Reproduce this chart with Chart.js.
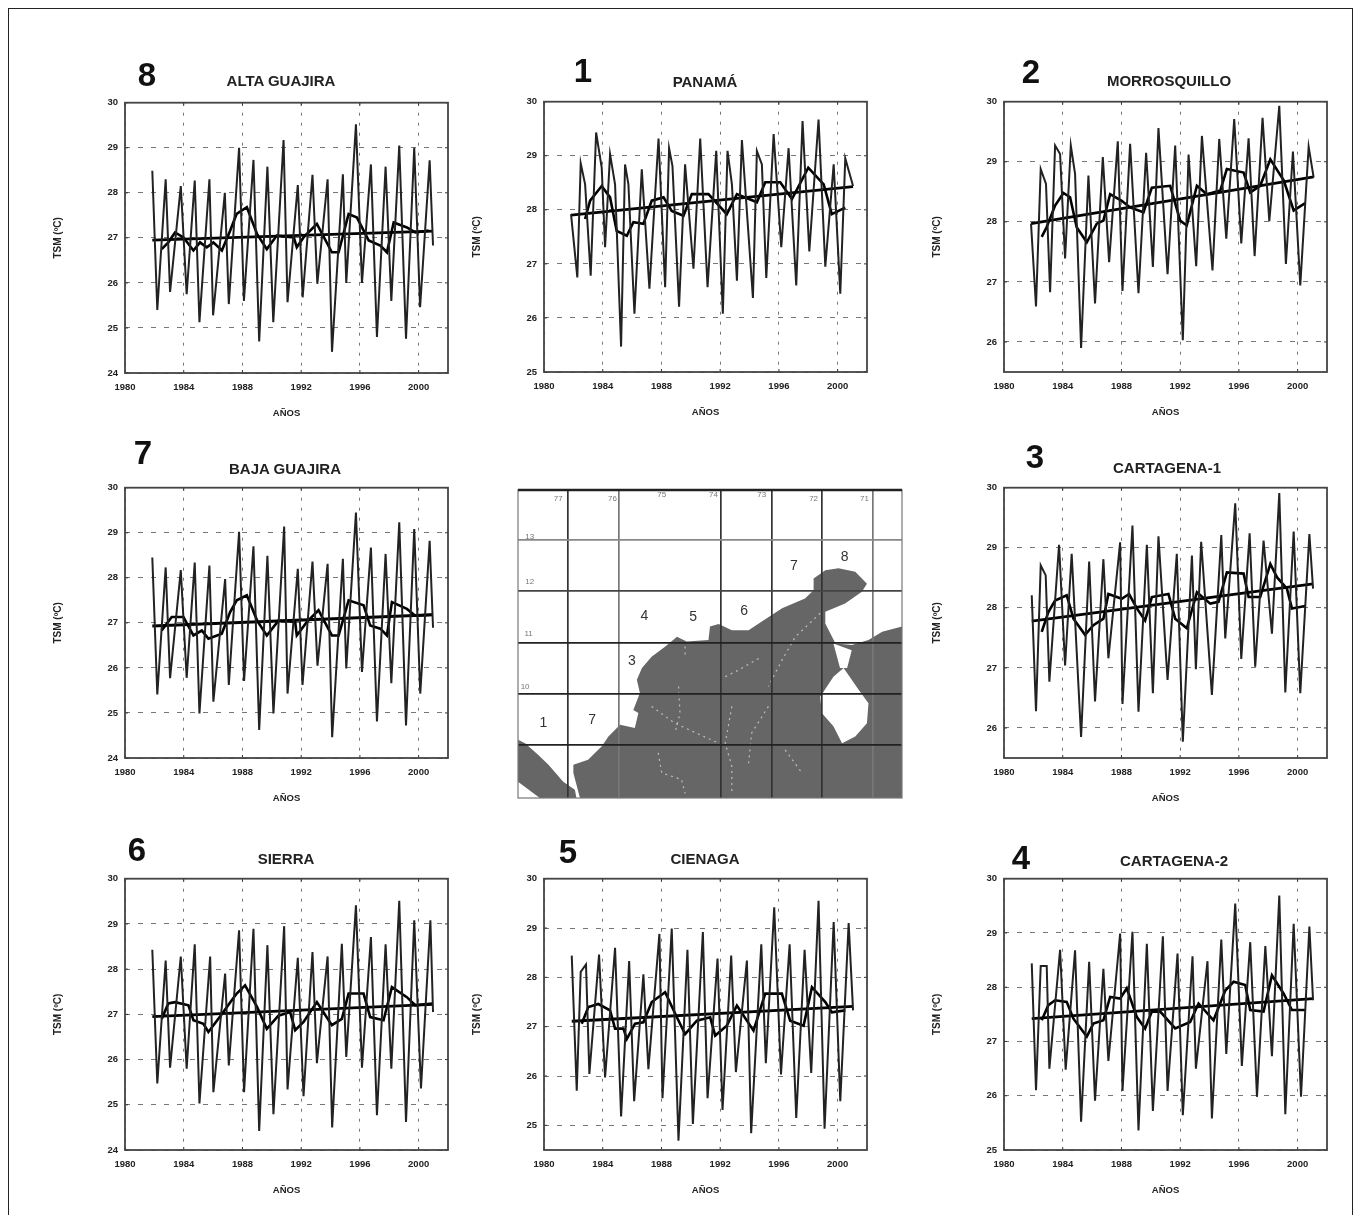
<!DOCTYPE html>
<html lang="es">
<head>
<meta charset="utf-8">
<title>TSM Caribe colombiano</title>
<script src="https://cdn.jsdelivr.net/npm/chart.js@4"></script>
<style>
  html, body { margin: 0; padding: 0; background: #fff; }
  #page { position: relative; width: 1361px; height: 1215px; overflow: hidden; filter: blur(0.6px); }
  #frame { position: absolute; left: 8px; top: 8px; width: 1343px; height: 1220px; border: 1px solid #222; }
  canvas { position: absolute; }
  .num, .name { position: absolute; transform: translate(-50%, -50%); font-family: "Liberation Sans", Arial, sans-serif; font-weight: bold; color: #111; white-space: nowrap; }
  .num { font-size: 33px; }
  .name { font-size: 15px; color: #222; }
</style>
</head>
<body>
<div id="page"><div id="frame"></div></div>
<script>
// Alta Guajira (8)
const altaYears = [1981.86,1982.2,1982.77,1983.07,1983.8,1984.2,1984.75,1985.07,1985.75,1986,1986.8,1987.07,1987.77,1988.1,1988.75,1989.14,1989.7,1990.1,1990.8,1991.07,1991.77,1992.1,1992.77,1993.1,1993.8,1994.1,1994.84,1995.07,1995.73,1996.14,1996.75,1997.16,1997.75,1998.14,1998.68,1999.14,1999.7,2000.1,2000.75,2000.98];
const altaSst = [28.49,25.4,28.3,25.8,28.15,25.75,28.27,25.13,28.3,25.28,28,25.53,29,25.6,28.73,24.7,28.58,25.13,29.17,25.57,28.17,25.68,28.4,25.98,28.3,24.47,28.41,26,29.52,26,28.63,24.8,28.58,25.6,29.05,24.76,29,25.46,28.72,26.83];
const altaMeanYears = [1982.5,1982.95,1983.41,1983.98,1984.66,1985.11,1985.57,1986.02,1986.6,1987.16,1987.6,1988.3,1989,1989.66,1990.34,1991.5,1991.7,1992.16,1993.07,1994.09,1994.55,1995.23,1995.8,1996.6,1997.39,1997.84,1998.3,1999.2,1999.77,2000.68];
const altaMean = [26.75,26.9,27.12,27.01,26.72,26.9,26.79,26.9,26.72,27.16,27.53,27.68,27.08,26.75,27.05,27.01,26.79,27.01,27.31,26.68,26.68,27.53,27.45,26.94,26.83,26.68,27.34,27.23,27.12,27.16];
const altaTrend = [26.95,27.15];

// Panama (1)
const panamaYears = [1981.84,1982.27,1982.5,1982.8,1983.18,1983.55,1983.93,1984.16,1984.5,1984.84,1985.25,1985.52,1985.75,1986.16,1986.66,1987.18,1987.8,1988.25,1988.52,1988.75,1989.2,1989.61,1990.18,1990.64,1991.14,1991.73,1992.18,1992.5,1992.8,1993.14,1993.48,1994.23,1994.5,1994.84,1995.14,1995.64,1996.16,1996.66,1997.18,1997.61,1998.07,1998.7,1999.16,1999.73,2000.18,2000.52,2001.05];
const panamaSst = [27.92,26.75,28.86,28.47,26.78,29.43,28.78,27.31,29.03,28.47,25.47,28.84,28.47,26.08,28.75,26.54,29.32,26.57,29.14,28.81,26.21,28.84,26.91,29.32,26.57,29.09,26.08,29.09,28.47,26.69,29.29,26.37,29.09,28.84,26.74,29.4,27.31,29.14,26.6,29.64,27.23,29.67,26.95,28.84,26.45,28.95,28.44];
const panamaMeanYears = [1982.8,1983.14,1983.93,1984.5,1984.95,1985.64,1986.09,1986.77,1987.34,1988.14,1988.7,1989.5,1990.07,1991.2,1992.45,1993.14,1994.5,1995.07,1996.09,1996.89,1998,1999.05,1999.6,2000.52];
const panamaMean = [27.83,28.17,28.44,28.23,27.61,27.52,27.77,27.74,28.17,28.23,27.98,27.89,28.29,28.29,27.92,28.29,28.14,28.51,28.51,28.2,28.78,28.47,27.92,28.04];
const panamaTrend = [27.9,28.43];

// Morrosquillo (2)
const morroYears = [1981.84,1982.18,1982.5,1982.86,1983.14,1983.48,1983.82,1984.16,1984.55,1984.84,1985.25,1985.75,1986.2,1986.73,1987.16,1987.75,1988.07,1988.59,1989.16,1989.68,1990.14,1990.52,1991.14,1991.66,1992.18,1992.57,1993.09,1993.48,1994.2,1994.66,1995.14,1995.68,1996.16,1996.66,1997.07,1997.61,1998.07,1998.75,1999.2,1999.68,2000.18,2000.75,2001.09];
const morroSst = [27.97,26.59,28.88,28.63,26.83,29.27,29.13,27.39,29.27,28.8,25.9,28.77,26.64,29.08,27.33,29.34,26.85,29.3,26.81,29.15,27.25,29.56,27.13,29.27,26.03,29.12,27.26,29.43,27.19,29.38,27.72,29.71,27.64,29.39,27.43,29.73,28.01,29.93,27.3,29.17,26.94,29.25,28.74];
const morroMeanYears = [1982.57,1982.9,1983.48,1984.05,1984.5,1984.95,1985.64,1986.32,1986.77,1987.23,1988.02,1988.59,1989.5,1990.07,1991.32,1992,1992.45,1993.14,1993.82,1994.73,1995.18,1996.32,1996.77,1997.45,1998.14,1999.05,1999.73,2000.52];
const morroMean = [27.75,27.91,28.27,28.48,28.41,27.91,27.66,27.97,28.02,28.46,28.35,28.24,28.16,28.57,28.6,28.02,27.94,28.6,28.46,28.52,28.88,28.82,28.49,28.6,29.04,28.69,28.19,28.31];
const morroTrend = [27.97,28.75];

// Baja Guajira (7)
const bajaYears = [1981.86,1982.2,1982.77,1983.07,1983.8,1984.2,1984.75,1985.07,1985.75,1986.02,1986.82,1987.07,1987.77,1988.11,1988.75,1989.14,1989.7,1990.11,1990.84,1991.07,1991.77,1992.09,1992.77,1993.11,1993.8,1994.11,1994.84,1995.07,1995.73,1996.14,1996.75,1997.16,1997.75,1998.14,1998.68,1999.14,1999.7,2000.11,2000.75,2000.98];
const bajaSst = [28.45,25.41,28.23,25.77,28.17,25.78,28.34,24.99,28.27,25.25,27.97,25.62,29.02,25.71,28.7,24.62,28.49,24.99,29.14,25.43,28.2,25.62,28.36,26.05,28.31,24.46,28.42,25.99,29.45,25.91,28.67,24.81,28.53,25.66,29.23,24.72,29.08,25.43,28.82,26.89];
const bajaMeanYears = [1982.5,1983.18,1983.98,1984.66,1985.23,1985.68,1986.59,1987.16,1987.61,1988.3,1989,1989.66,1990.45,1991.59,1991.7,1992.39,1993.18,1994.09,1994.55,1995.23,1996.25,1996.7,1997.39,1997.84,1998.18,1999.2,1999.77,2000.91];
const bajaMean = [26.83,27.13,27.13,26.72,26.83,26.65,26.76,27.24,27.5,27.61,27.05,26.72,27.05,27.02,26.72,27.02,27.28,26.72,26.72,27.5,27.39,26.94,26.87,26.72,27.46,27.31,27.16,27.18];
const bajaTrend = [26.93,27.18];

// Cartagena-1 (3)
const carta1Years = [1981.89,1982.18,1982.5,1982.84,1983.09,1983.75,1984.16,1984.61,1985.25,1985.8,1986.2,1986.77,1987.11,1987.91,1988.07,1988.75,1989.16,1989.73,1990.14,1990.52,1991.14,1991.77,1992.18,1992.8,1993.07,1993.43,1994.16,1994.8,1995.07,1995.75,1996.16,1996.73,1997.11,1997.68,1998.25,1998.75,1999.16,1999.73,2000.18,2000.8,2001.05];
const carta1Sst = [28.21,26.28,28.71,28.54,26.77,29.05,27.04,28.9,25.85,28.77,26.44,28.81,27.16,29.09,26.4,29.37,26.27,29.05,26.58,29.19,26.8,28.9,25.77,28.87,26.98,29.1,26.55,29.21,27.49,29.74,27.15,29.24,27.02,29.12,27.57,29.91,26.59,29.27,26.58,29.23,28.32];
const carta1MeanYears = [1982.57,1983.02,1983.48,1984.27,1984.73,1985.52,1986.09,1986.77,1987.11,1988.02,1988.52,1989.05,1989.61,1990.07,1991.2,1991.66,1992.45,1993.14,1994.05,1994.61,1995.18,1996.32,1996.66,1997.45,1998.14,1998.59,1999.27,1999.61,2000.52];
const carta1Mean = [27.6,27.93,28.12,28.21,27.82,27.55,27.71,27.82,28.23,28.15,28.23,27.99,27.79,28.18,28.23,27.82,27.66,28.26,28.07,28.1,28.59,28.57,28.18,28.18,28.73,28.51,28.32,27.99,28.03];
const carta1Trend = [27.78,28.4];

// Sierra (6)
const sierraYears = [1981.86,1982.2,1982.77,1983.07,1983.8,1984.2,1984.75,1985.07,1985.8,1986.02,1986.82,1987.07,1987.77,1988.11,1988.75,1989.14,1989.7,1990.11,1990.84,1991.07,1991.77,1992.16,1992.77,1993.07,1993.8,1994.11,1994.77,1995.07,1995.73,1996.14,1996.75,1997.16,1997.75,1998.14,1998.68,1999.14,1999.7,2000.16,2000.8,2000.98];
const sierraSst = [28.43,25.47,28.19,25.82,28.28,25.8,28.55,25.03,28.28,25.28,27.9,25.87,28.86,25.28,28.89,24.42,28.53,24.79,28.95,25.34,28.25,25.19,28.38,25.92,28.28,24.5,28.56,26.06,29.41,25.82,28.71,24.77,28.55,25.8,29.51,24.62,29.08,25.36,29.08,27.05];
const sierraMeanYears = [1982.5,1982.95,1983.41,1984.32,1984.66,1985.34,1985.68,1986.59,1987.27,1987.61,1988.18,1989,1989.66,1990.45,1991.25,1991.59,1992.16,1993.07,1994.09,1994.77,1995.23,1996.25,1996.7,1997.61,1998.18,1999.2,1999.77,2000.91];
const sierraMean = [26.9,27.24,27.27,27.2,26.87,26.79,26.61,27,27.31,27.46,27.64,27.16,26.68,26.97,27.05,26.65,26.83,27.27,26.76,26.9,27.46,27.46,26.94,26.87,27.6,27.38,27.2,27.24];
const sierraTrend = [26.95,27.22];

// Cienaga (5)
const cienagaYears = [1981.89,1982.23,1982.5,1982.86,1983.09,1983.75,1984.16,1984.84,1985.25,1985.8,1986.14,1986.77,1987.11,1987.86,1988.07,1988.7,1989.16,1989.77,1990.14,1990.82,1991.14,1991.82,1992.16,1992.75,1993.07,1993.82,1994.11,1994.8,1995.11,1995.68,1996.14,1996.73,1997.18,1997.75,1998.2,1998.7,1999.11,1999.73,2000.18,2000.75,2001.05];
const cienagaSst = [28.44,25.7,28.11,28.26,26.04,28.46,25.97,28.6,25.18,28.33,25.49,28.06,26.14,28.88,25.55,28.99,24.69,28.56,25.03,28.92,25.55,28.38,25.31,28.44,26.08,28.34,24.84,28.67,26.26,29.42,26.03,28.67,25.15,28.56,26.06,29.55,24.93,29.12,25.49,29.1,27.33];
const cienagaMeanYears = [1982.57,1983.02,1983.7,1984.5,1984.84,1985.41,1985.64,1986.2,1986.77,1987.34,1988.25,1989.05,1989.61,1990.41,1991.32,1991.66,1992.45,1993.14,1994.27,1995.07,1996.2,1996.77,1997.68,1998.25,1999.16,1999.61,2000.52];
const cienagaMean = [27.06,27.4,27.46,27.33,26.96,26.96,26.75,27.06,27.09,27.5,27.7,27.19,26.85,27.12,27.19,26.82,27.02,27.43,26.92,27.67,27.67,27.12,27.02,27.8,27.5,27.29,27.33];
const cienagaTrend = [27.11,27.41];

// Cartagena-2 (4)
const carta2Years = [1981.89,1982.18,1982.5,1982.91,1983.09,1983.82,1984.2,1984.84,1985.25,1985.8,1986.2,1986.77,1987.11,1987.91,1988.07,1988.75,1989.16,1989.73,1990.14,1990.82,1991.14,1991.82,1992.18,1992.84,1993.07,1993.86,1994.16,1994.8,1995.14,1995.75,1996.2,1996.77,1997.23,1997.8,1998.25,1998.75,1999.16,1999.73,2000.23,2000.8,2001.05];
const carta2Sst = [28.44,26.1,28.39,28.39,26.5,28.69,26.48,28.68,25.52,28.47,25.91,28.34,26.64,28.99,26.09,29.02,25.36,28.8,25.72,28.94,26.09,28.62,25.64,28.57,26.5,28.48,25.58,28.88,26.77,29.54,26.55,28.83,25.98,28.76,26.73,29.69,25.66,29.17,25.98,29.12,27.76];
const carta2MeanYears = [1982.57,1983.02,1983.48,1984.27,1984.73,1985.64,1986.09,1986.77,1987.23,1987.91,1988.36,1989.05,1989.61,1990.07,1990.64,1991.66,1992.68,1993.25,1994.27,1995.07,1995.64,1996.43,1996.77,1997.68,1998.25,1999.05,1999.61,2000.52];
const carta2Mean = [27.39,27.67,27.76,27.73,27.42,27.09,27.33,27.39,27.82,27.79,27.98,27.45,27.24,27.55,27.55,27.24,27.36,27.7,27.39,27.94,28.1,28.04,27.58,27.55,28.22,27.88,27.58,27.58];
const carta2Trend = [27.42,27.79];

// Mapa: costa, lago y rios en grados
const landLon = [-76.77,-76.9,-76.9,-76.61,-76.34,-76.21,-75.98,-75.69,-75.62,-75.72,-75.59,-75.65,-75.55,-75.36,-75.09,-74.86,-74.67,-74.24,-74.21,-74.04,-73.78,-73.45,-73.19,-72.79,-72.34,-72.17,-72.17,-71.94,-71.68,-71.35,-71.12,-71.22,-71.55,-71.94,-71.94,-71.74,-71.42,-71.09,-70.82,-70.43,-70.43];
const landLat = [7.96,8.45,8.61,8.71,8.97,9.16,9.39,9.33,9.62,9.68,10.01,10.27,10.5,10.72,10.92,11.11,11.02,11.05,11.31,11.36,11.24,11.24,11.41,11.67,11.86,12.02,12.25,12.41,12.45,12.38,12.15,11.99,11.76,11.6,11.37,10.98,10.95,11.05,11.21,11.31,7.96];
const panamaLon = [-77.99,-77.85,-77.59,-77.39,-77.1,-76.87,-76.84,-77.56,-77.99];
const panamaLat = [9.1,9.03,8.8,8.61,8.28,8.12,7.96,7.96,8.28];
const lakeLon = [-71.58,-71.28,-71.09,-71.12,-71.35,-71.61,-71.78,-72.01,-72.04,-71.78];
const lakeLat = [10.5,10.07,9.81,9.42,9.16,9.03,9.36,9.62,9.94,10.33];
const straitLon = [-71.78,-71.42,-71.51,-71.65];
const straitLat = [10.98,10.85,10.5,10.5];
const riverLon = [-75.36,-74.9,-74.04,null,-74.83,-74.8,-74.9,null,-73.78,-73.91,-73.78,-73.78,null,-73.06,-73.39,-73.45,null,-72.73,-72.4,null,-72.04,-72.53,-72.79,-73.06,null,-75.23,-75.16,-74.77,-74.7,null,-74.7,-74.7,null,-73.91,-73.65,-73.19];
const riverLat = [9.75,9.42,9.03,null,10.14,9.62,9.23,null,9.75,9.03,8.58,8.05,null,9.75,9.23,8.64,null,8.9,8.45,null,11.57,11.11,10.66,10.14,null,8.84,8.45,8.32,8.05,null,10.92,10.69,null,10.33,10.46,10.72];
const zoneNames = ['1','7','3','4','5','6','7','8'];
const zoneLon = [-77.49,-76.53,-75.75,-75.5,-74.54,-73.54,-72.56,-71.56];
const zoneLat = [9.42,9.49,10.63,11.52,11.5,11.62,12.49,12.66];
const gridNames = ['77','76','75','74','73','72','71','13','12','11','10'];
const gridLon = [-77.2,-76.13,-75.16,-74.14,-73.19,-72.17,-71.17,-77.76,-77.76,-77.78,-77.85];
const gridLat = [13.81,13.81,13.88,13.88,13.88,13.81,13.81,13.07,12.19,11.17,10.13];

const xTitle = 'AÑOS';
const yTitle = 'TSM (ºC)';

const zip = (xs, ys) => xs.map((x, i) => ({ x: x, y: ys[i] }));

// y range differs by panel, plot boxes are placed by hand to line up with the figure
const panels = [
  { num: '8', name: 'ALTA GUAJIRA', yMin: 24, left: 125, top: 102, h: 271, numAt: [147, 75], nameAt: [281, 80], years: altaYears, sst: altaSst, meanYears: altaMeanYears, mean: altaMean, trend: altaTrend },
  { num: '1', name: 'PANAMÁ', yMin: 25, left: 544, top: 101, h: 271, numAt: [583, 71], nameAt: [705, 81], years: panamaYears, sst: panamaSst, meanYears: panamaMeanYears, mean: panamaMean, trend: panamaTrend },
  { num: '2', name: 'MORROSQUILLO', yMin: 25.5, left: 1004, top: 101, h: 271, numAt: [1031, 72], nameAt: [1169, 80], years: morroYears, sst: morroSst, meanYears: morroMeanYears, mean: morroMean, trend: morroTrend },
  { num: '7', name: 'BAJA GUAJIRA', yMin: 24, left: 125, top: 487, h: 271, numAt: [143, 453], nameAt: [285, 468], years: bajaYears, sst: bajaSst, meanYears: bajaMeanYears, mean: bajaMean, trend: bajaTrend },
  { num: '3', name: 'CARTAGENA-1', yMin: 25.5, left: 1004, top: 487, h: 271, numAt: [1035, 457], nameAt: [1167, 467], years: carta1Years, sst: carta1Sst, meanYears: carta1MeanYears, mean: carta1Mean, trend: carta1Trend },
  { num: '6', name: 'SIERRA', yMin: 24, left: 125, top: 878, h: 272, numAt: [137, 850], nameAt: [286, 858], years: sierraYears, sst: sierraSst, meanYears: sierraMeanYears, mean: sierraMean, trend: sierraTrend },
  { num: '5', name: 'CIENAGA', yMin: 24.5, left: 544, top: 878, h: 272, numAt: [568, 852], nameAt: [705, 858], years: cienagaYears, sst: cienagaSst, meanYears: cienagaMeanYears, mean: cienagaMean, trend: cienagaTrend },
  { num: '4', name: 'CARTAGENA-2', yMin: 25, left: 1004, top: 878, h: 272, numAt: [1021, 858], nameAt: [1174, 860], years: carta2Years, sst: carta2Sst, meanYears: carta2MeanYears, mean: carta2Mean, trend: carta2Trend },
];

const page = document.getElementById('page');
const FONT = '"Liberation Sans", Arial, sans-serif';
const MARGIN_L = 73, MARGIN_T = 12, MARGIN_B = 46, MARGIN_R = 16, PLOT_W = 323;

const addText = (cls, text, at) => {
  const d = document.createElement('div');
  d.className = cls;
  d.textContent = text;
  d.style.left = at[0] + 'px';
  d.style.top = at[1] + 'px';
  page.appendChild(d);
};

const addCanvas = (left, top, w, h) => {
  const c = document.createElement('canvas');
  c.width = w;
  c.height = h;
  c.style.left = left + 'px';
  c.style.top = top + 'px';
  c.style.width = w + 'px';
  c.style.height = h + 'px';
  page.appendChild(c);
  return c;
};

// box round the plot with short inward ticks
const plotFrame = {
  id: 'plotFrame',
  afterDatasetsDraw(chart) {
    const { ctx, chartArea: a, scales } = chart;
    ctx.save();
    ctx.strokeStyle = '#333';
    ctx.lineWidth = 1;
    ctx.beginPath();
    scales.x.ticks.forEach(t => {
      const px = scales.x.getPixelForValue(t.value);
      ctx.moveTo(px, a.top); ctx.lineTo(px, a.top + 3);
      ctx.moveTo(px, a.bottom); ctx.lineTo(px, a.bottom - 3);
    });
    scales.y.ticks.forEach(t => {
      const py = scales.y.getPixelForValue(t.value);
      ctx.moveTo(a.left, py); ctx.lineTo(a.left + 3, py);
      ctx.moveTo(a.right, py); ctx.lineTo(a.right - 3, py);
    });
    ctx.stroke();
    ctx.lineWidth = 1.8;
    ctx.strokeStyle = '#444';
    ctx.strokeRect(a.left, a.top, a.width, a.height);
    ctx.restore();
  }
};

panels.forEach(p => {
  addText('num', p.num, p.numAt);
  addText('name', p.name, p.nameAt);
  const canvas = addCanvas(p.left - MARGIN_L, p.top - MARGIN_T, MARGIN_L + PLOT_W + MARGIN_R, MARGIN_T + p.h + MARGIN_B);
  new Chart(canvas.getContext('2d'), {
    type: 'line',
    data: {
      datasets: [
        { data: zip(p.years, p.sst), borderColor: '#222', borderWidth: 2 },
        { data: zip(p.meanYears, p.mean), borderColor: '#000', borderWidth: 2.6 },
        { data: zip([p.years[0], p.years[p.years.length - 1]], p.trend), borderColor: '#000', borderWidth: 2.8 },
      ]
    },
    options: {
      responsive: false,
      animation: false,
      layout: { padding: { top: MARGIN_T, right: MARGIN_R } },
      elements: { point: { radius: 0 }, line: { tension: 0, borderJoinStyle: 'miter' } },
      plugins: { legend: { display: false }, tooltip: { enabled: false } },
      scales: {
        x: {
          type: 'linear',
          min: 1980,
          max: 2002,
          afterFit: s => { s.height = MARGIN_B; },
          border: { display: false, dash: [3, 7] },
          grid: {
            drawTicks: false,
            color: c => (c.tick.value % 4 === 0 ? '#777' : 'transparent'),
          },
          ticks: {
            stepSize: 2,
            autoSkip: false,
            maxRotation: 0,
            padding: 9,
            color: '#222',
            font: { family: FONT, size: 9.5, weight: 'bold' },
            callback: v => (v % 4 === 0 ? String(v) : null),
          },
          title: { display: true, text: xTitle, color: '#222', padding: 0, font: { family: FONT, size: 9.5, weight: 'bold' } },
        },
        y: {
          min: p.yMin,
          max: 30,
          afterFit: s => { s.width = MARGIN_L; },
          border: { display: false, dash: [5, 8] },
          grid: { drawTicks: false, color: '#777' },
          ticks: {
            stepSize: 1,
            padding: 7,
            color: '#222',
            font: { family: FONT, size: 9.5, weight: 'bold' },
            callback: v => (Number.isInteger(v) ? String(v) : null),
          },
          title: { display: true, text: yTitle, color: '#222', padding: 0, font: { family: FONT, size: 10, weight: 'bold' } },
        },
      }
    },
    plugins: [plotFrame]
  });
});

// closed shapes of the map, filled from the chart's own point positions
const mapFill = {
  id: 'mapFill',
  beforeDatasetsDraw(chart) {
    const { ctx } = chart;
    chart.data.datasets.forEach((ds, i) => {
      if (!ds.shapeFill) return;
      const pts = chart.getDatasetMeta(i).data;
      ctx.save();
      ctx.fillStyle = ds.shapeFill;
      ctx.beginPath();
      pts.forEach((pt, k) => (k ? ctx.lineTo(pt.x, pt.y) : ctx.moveTo(pt.x, pt.y)));
      ctx.closePath();
      ctx.fill();
      ctx.restore();
    });
  }
};

const mapText = {
  id: 'mapText',
  afterDraw(chart) {
    const { ctx, chartArea: a, scales } = chart;
    ctx.save();
    ctx.textAlign = 'center';
    ctx.textBaseline = 'middle';
    ctx.fillStyle = '#777';
    ctx.font = '8px ' + FONT;
    gridNames.forEach((t, i) => ctx.fillText(t, scales.x.getPixelForValue(gridLon[i]), scales.y.getPixelForValue(gridLat[i])));
    ctx.fillStyle = '#333';
    ctx.font = '14px ' + FONT;
    zoneNames.forEach((t, i) => ctx.fillText(t, scales.x.getPixelForValue(zoneLon[i]), scales.y.getPixelForValue(zoneLat[i])));
    ctx.strokeStyle = '#777';
    ctx.lineWidth = 1.2;
    ctx.strokeRect(a.left, a.top, a.width, a.height);
    ctx.strokeStyle = '#222';
    ctx.lineWidth = 2.6;
    ctx.beginPath();
    ctx.moveTo(a.left, a.top);
    ctx.lineTo(a.right, a.top);
    ctx.stroke();
    ctx.restore();
  }
};

const mapLon = { '-77': '#333', '-76': '#777', '-74': '#333', '-73': '#333', '-72': '#333', '-71': '#777' };
const mapLat = { '13': '#888', '12': '#444', '11': '#222', '10': '#222', '9': '#222' };

const shape = (lons, lats, colour) => ({ data: zip(lons, lats), shapeFill: colour, showLine: false });

new Chart(addCanvas(515, 487, 390, 314).getContext('2d'), {
  type: 'line',
  data: {
    datasets: [
      shape(landLon, landLat, '#666'),
      shape(panamaLon, panamaLat, '#666'),
      shape(lakeLon, lakeLat, '#fff'),
      shape(straitLon, straitLat, '#fff'),
      { data: zip(riverLon, riverLat), borderColor: '#bdbdbd', borderWidth: 1.2, borderDash: [2, 4], spanGaps: false },
    ]
  },
  options: {
    responsive: false,
    animation: false,
    layout: { padding: 3 },
    elements: { point: { radius: 0 }, line: { tension: 0 } },
    plugins: { legend: { display: false }, tooltip: { enabled: false } },
    scales: {
      x: {
        type: 'linear',
        min: -77.99,
        max: -70.43,
        border: { display: false },
        afterFit: s => { s.height = 0; },
        ticks: { display: false, stepSize: 1, includeBounds: false },
        grid: {
          z: 1,
          drawTicks: false,
          color: c => mapLon[String(c.tick.value)] || 'transparent',
          lineWidth: 1.7,
        },
      },
      y: {
        min: 7.96,
        max: 13.98,
        border: { display: false },
        afterFit: s => { s.width = 0; },
        ticks: { display: false, stepSize: 1, includeBounds: false },
        grid: {
          z: 1,
          drawTicks: false,
          color: c => mapLat[String(c.tick.value)] || 'transparent',
          lineWidth: 1.7,
        },
      },
    }
  },
  plugins: [mapFill, mapText]
});
</script>
</body>
</html>
